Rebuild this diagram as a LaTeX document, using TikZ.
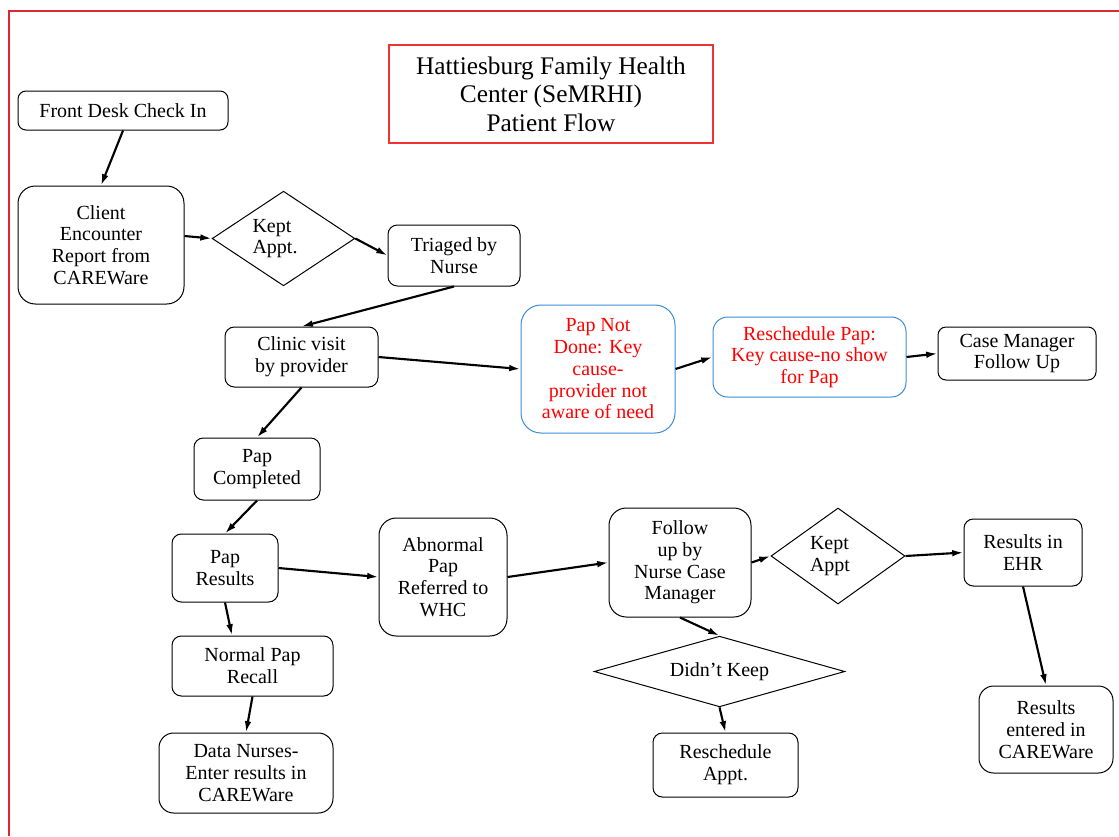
\documentclass[tikz,border=0pt]{standalone}
\usepackage{fontspec}
\setmainfont{Liberation Serif}
\usetikzlibrary{arrows.meta, shapes.geometric}
\definecolor{framered}{RGB}{220,40,50}
\definecolor{titlered}{RGB}{240,50,50}
\definecolor{boxblue}{RGB}{60,140,215}
\tikzset{>={Latex[length=8.5pt,width=5pt]},
every node/.style={font=\fontsize{15}{16.3}\selectfont, align=center, inner sep=0pt},
box/.style={draw, rounded corners=7pt, line width=0.75pt},
roundbox/.style={box, rounded corners=13pt},
bluebox/.style={box, draw=boxblue, text=red},
choice/.style={draw, diamond, line width=0.75pt},
flow/.style={->, line width=1.6pt},
}

\begin{document}
\begin{tikzpicture}[x=0.75pt, y=-0.75pt]
    \useasboundingbox (0,0) rectangle (1119,836);
    \draw[framered, line width=1.5pt] (9,836) -- (9,11) -- (1119,11);

    \node[draw=titlered, line width=0.9pt, minimum width=243pt, minimum height=73.5pt,
          font=\fontsize{19}{21.4}\selectfont] (title) at (551,94)
          {Hattiesburg Family Health\\Center (SeMRHI)\\Patient Flow};

    \node[box, rounded corners=6pt, minimum width=157.5pt, minimum height=29.25pt] (front) at (123,110.5) {Front Desk Check In};
    \node[roundbox, minimum width=124.5pt, minimum height=88.5pt] (client) at (101,245) {Client\\Encounter\\Report from\\CAREWare};
    \node[choice, shape aspect=1.5, minimum width=107pt, minimum height=71pt, text width=46.5pt, align=left] (kept1) at (283.5,238.5) {Kept\\Appt.};
    \node[box, minimum width=99pt, minimum height=45.75pt] (triage) at (454,255.5) {Triaged by\\Nurse};
    \node[box, minimum width=114.75pt, minimum height=45pt] (clinic) at (301.5,357) {Clinic visit\\by provider};
    \node[bluebox, rounded corners=15pt, minimum width=115.5pt, minimum height=96pt] (papnot) at (598,369) {Pap Not\\Done: Key\\cause-\\provider not\\aware of need};
    \node[bluebox, rounded corners=11pt, minimum width=144.75pt, minimum height=60pt] (reschedpap) at (809.5,357) {Reschedule Pap:\\Key cause-no show\\for Pap};
    \node[box, rounded corners=6pt, minimum width=118.5pt, minimum height=39.75pt] (casemgr) at (1017,353.5) {Case Manager\\Follow Up};

    \node[box, minimum width=94.5pt, minimum height=46.5pt] (papdone) at (257,469) {Pap\\Completed};
    \node[box, minimum width=79.5pt, minimum height=51pt] (papres) at (225,568) {Pap\\Results};
    \node[box, minimum width=120.75pt, minimum height=45pt] (normal) at (252.5,666) {Normal Pap\\Recall};
    \node[roundbox, rounded corners=11pt, minimum width=130.5pt, minimum height=60pt] (datanurse) at (246,773) {Data Nurses-\\Enter results in\\CAREWare};
    \node[roundbox, minimum width=96pt, minimum height=88.5pt] (abnormal) at (443,577) {Abnormal\\Pap\\Referred to\\WHC};
    \node[roundbox, minimum width=106.5pt, minimum height=81.75pt] (follow) at (680,562.5) {Follow\\up by\\Nurse Case\\Manager};
    \node[choice, shape aspect=1.4, minimum width=100.5pt, minimum height=72pt, text width=42pt, align=left] (kept2) at (838,556) {Kept\\Appt};
    \node[choice, shape aspect=3.5, minimum width=188pt, minimum height=53pt] (didnt) at (719.5,671.5) {Didn’t Keep};
    \node[box, minimum width=108.75pt, minimum height=48pt] (reschedappt) at (725.5,765) {Reschedule\\Appt.};
    \node[box, minimum width=88.5pt, minimum height=50.25pt] (ehr) at (1023,552.5) {Results in\\EHR};
    \node[roundbox, rounded corners=11pt, minimum width=100.5pt, minimum height=65.25pt] (entered) at (1046,729.5) {Results\\entered in\\CAREWare};

    \draw[flow] (front.south) -- (client.north);
    \draw[flow] ([yshift=6.75pt]client.east) -- (kept1.west);
    \draw[flow] (kept1.east) -- (triage.west);
    \draw[flow] (triage.south) -- (clinic.north);
    \draw[flow] (clinic.east) -- (papnot.west);
    \draw[flow] (papnot.east) -- (reschedpap.west);
    \draw[flow] (reschedpap.east) -- (casemgr.west);
    \draw[flow] (clinic.south) -- (papdone.north);
    \draw[flow] (papdone.south) -- (papres.north);
    \draw[flow] (papres.east) -- (abnormal.west);
    \draw[flow] (papres.south) -- ([xshift=-15.4pt]normal.north);
    \draw[flow] (normal.south) -- (datanurse.north);
    \draw[flow] (abnormal.east) -- (follow.west);
    \draw[flow] (follow.east) -- (kept2.west);
    \draw[flow] (kept2.east) -- (ehr.west);
    \draw[flow] (follow.south) -- (didnt.north);
    \draw[flow] (didnt.south) -- (reschedappt.north);
    \draw[flow] (ehr.south) -- (entered.north);
\end{tikzpicture}
\end{document}
